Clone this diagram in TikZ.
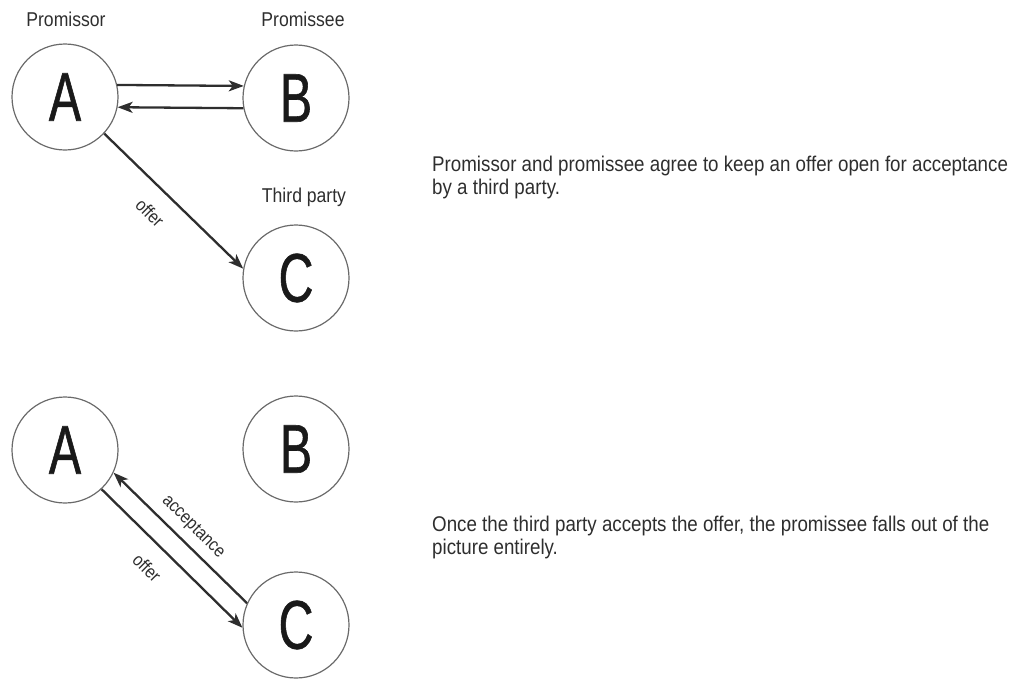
\documentclass[tikz,border=0pt]{standalone}
\usepackage{fontspec}
\setmainfont{Liberation Sans}
\newfontfamily\cf[FakeStretch=0.88]{Liberation Sans}
\newfontfamily\bigf[FakeStretch=0.70,FakeBold=0.8]{Liberation Sans}
\usetikzlibrary{arrows.meta}
\definecolor{ink}{HTML}{2E2E2E}
\definecolor{ring}{HTML}{6A6A6A}
\begin{document}
\begin{tikzpicture}[x=1pt,y=-1pt,
  party/.style={circle,draw=ring,line width=1.2pt,minimum size=106pt,inner sep=0pt,
    font=\bigf\fontsize{69}{69}\selectfont,text=black!90},
  role/.style={font=\cf\fontsize{20}{20}\selectfont,text=ink},
  arr/.style={draw=ink,line width=2.3pt,-{Stealth[length=15pt,width=11pt,inset=4pt]}},
  elab/.style={font=\cf\fontsize{18}{18}\selectfont,text=ink,rotate=-45},
  desc/.style={font=\cf\fontsize{21.3}{22.5}\selectfont,text=ink,align=left,anchor=north west,inner sep=0pt}]
\useasboundingbox (0,0) rectangle (1015,678);
% top scenario
\node[party] (A1) at (65,97) {A};
\node[party] (B1) at (296,98) {B};
\node[party] (C1) at (296,278) {C};
\node[role] (pr) at (66,19) {Promissor};
\node[role] (pe) at (303,19) {Promissee};
\node[role] (tp) at (304,197) {Third party};
\draw[arr] (A1.13) -- (B1.167);
\draw[arr] (B1.191) -- (A1.-11);
\draw[arr] (A1.-43) -- (C1.170);
\node[elab] (o1) at (150,213) {offer};
\node[desc] (d1) at (432,156) {Promissor and promissee agree to keep an offer open for acceptance\\by a third party.};
% bottom scenario
\node[party] (A2) at (65,450) {A};
\node[party] (B2) at (296,449) {B};
\node[party] (C2) at (296,625) {C};
\draw[arr] (A2.-47) -- (C2.183);
\draw[arr] (C2.156) -- (A2.-25);
\node[elab] (ac) at (193,527) {acceptance};
\node[elab] (o2) at (147,568) {offer};
\node[desc] (d2) at (432,516) {Once the third party accepts the offer, the promissee falls out of the\\picture entirely.};
\end{tikzpicture}
\end{document}
